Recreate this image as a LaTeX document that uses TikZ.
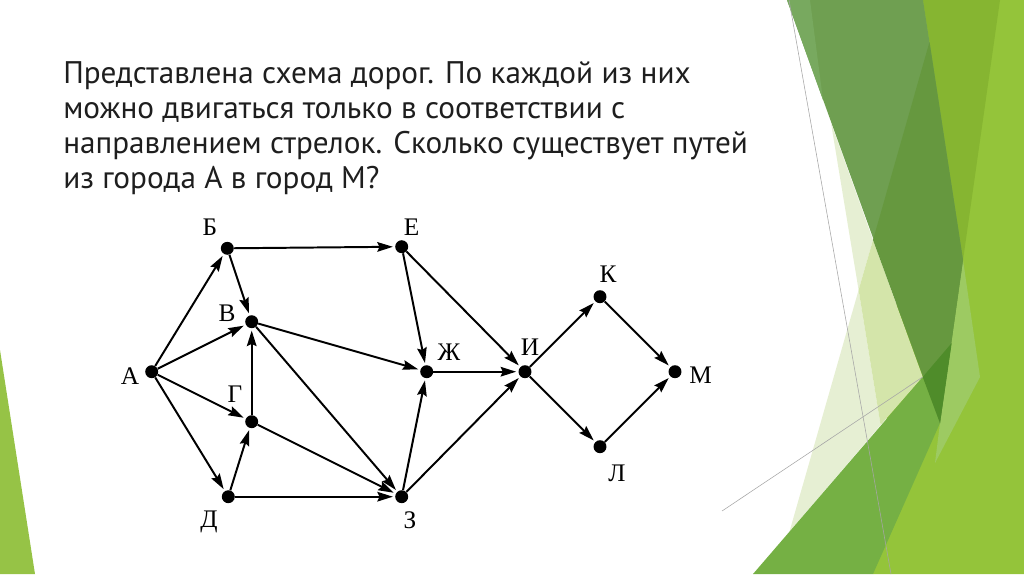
\documentclass[tikz,border=0pt]{standalone}
\usepackage{fontspec}
\setmainfont{PT Sans}
\newfontfamily\mapfont{Liberation Serif}
\usetikzlibrary{arrows.meta}
\definecolor{brightgreen}{HTML}{94C43A}
\definecolor{yellowgreen}{HTML}{86B531}
\definecolor{mutedgreen}{HTML}{6F9F51}
\definecolor{mutedlight}{HTML}{78A95F}
\definecolor{muteddark}{HTML}{66983F}
\definecolor{darkgreen}{HTML}{4F8C2A}
\definecolor{mediumgreen}{HTML}{75B044}
\definecolor{softgreen}{HTML}{9DCA62}
\definecolor{palegreen}{HTML}{E6EFD3}
\definecolor{pale2green}{HTML}{D4E5AA}
\definecolor{stripgreen}{HTML}{96C346}
\definecolor{slidetext}{HTML}{1E1E1E}

\begin{document}
\begin{tikzpicture}[
    x=0.025cm, y=-0.025cm,
    city/.style={circle, fill=black, inner sep=0pt, minimum size=9.2pt},
    citylabel/.style={font=\mapfont\fontsize{18}{18}\selectfont, inner sep=0pt},
    road/.style={-{Stealth[length=11pt, width=6.8pt, inset=1.5pt]}, line width=1.4pt, shorten >=1.5pt},
    question/.style={anchor=base west, inner sep=0pt, text=slidetext, font=\fontsize{22.2}{22.2}\selectfont},
    facetline/.style={draw=black!35, line width=0.4pt}
]
\useasboundingbox (0,0) rectangle (1024,574);

% slide decoration
\fill[stripgreen] (0,350) -- (0,574) -- (35,574) -- cycle;
\fill[brightgreen] (923,0) -- (1024,0) -- (1024,574) -- (873,574) -- cycle;
\fill[yellowgreen] (923,0) -- (1000,0) -- (963,260) -- cycle;
\fill[softgreen] (963,260) -- (980,377) -- (935,463) -- (940,423) -- cycle;
\fill[palegreen] (831,123) -- (873,240) -- (858.6,290) -- cycle;
\fill[palegreen] (858.6,290) -- (880.6,425) -- (789.5,531.5) -- cycle;
\fill[pale2green] (873,240) -- (858.6,290) -- (880.6,425) -- (922.7,377) -- cycle;
\fill[mediumgreen] (753,574) -- (922.7,377) -- (940,423) -- (873,574) -- cycle;
\fill[mutedgreen] (787,0) -- (923,0) -- (963,260) -- (940,423) -- cycle;
\fill[mutedlight] (787,0) -- (810,0) -- (823,100) -- cycle;
\fill[muteddark] (929.5,42) -- (963,260) -- (940,423) -- (873,240) -- cycle;
\fill[darkgreen] (922.7,377) -- (951.7,343) -- (940,423) -- cycle;
\draw[facetline] (789,0) -- (891,574);
\draw[facetline] (722,511) -- (922.7,377);

% question
\node[question] (q1) at (63,83.3) {Представлена схема дорог. По каждой из них};
\node[question] (q2) at (63,118.5) {можно двигаться только в соответствии с};
\node[question] (q3) at (63,153.6) {направлением стрелок. Сколько существует путей};
\node[question] (q4) at (63,188.8) {из города А в город М?};

% cities
\node[city] (A) at (151.7,371.7) {};
\node[city] (B) at (227.3,248.3) {};
\node[city] (V) at (251.7,321.7) {};
\node[city] (G) at (251.7,421.7) {};
\node[city] (D) at (228.3,496.7) {};
\node[city] (E) at (401.7,246.7) {};
\node[city] (Zh) at (426.7,371.7) {};
\node[city] (Z) at (401.7,496.7) {};
\node[city] (I) at (525,371.7) {};
\node[city] (K) at (600,296.7) {};
\node[city] (L) at (600,446.7) {};
\node[city] (M) at (675,371.7) {};

\node[citylabel] (lA) at (130,376) {А};
\node[citylabel] (lB) at (210,227.5) {Б};
\node[citylabel] (lV) at (227,313) {В};
\node[citylabel] (lG) at (235,394) {Г};
\node[citylabel] (lD) at (209,522) {Д};
\node[citylabel] (lE) at (411.5,227.5) {Е};
\node[citylabel] (lZh) at (449,352.5) {Ж};
\node[citylabel] (lZ) at (410,520) {З};
\node[citylabel] (lI) at (530,347.5) {И};
\node[citylabel] (lK) at (608,274.5) {К};
\node[citylabel] (lL) at (617,473.5) {Л};
\node[citylabel] (lM) at (700.5,375) {М};

% roads
\foreach \from/\to in {A/B, A/V, A/G, A/D, B/E, B/V, V/Zh, V/Z, G/V, G/Z, D/G, D/Z,
                       E/Zh, E/I, Zh/I, Z/Zh, Z/I, I/K, I/L, K/M, L/M}
    \draw[road] (\from) -- (\to);

\end{tikzpicture}
\end{document}
